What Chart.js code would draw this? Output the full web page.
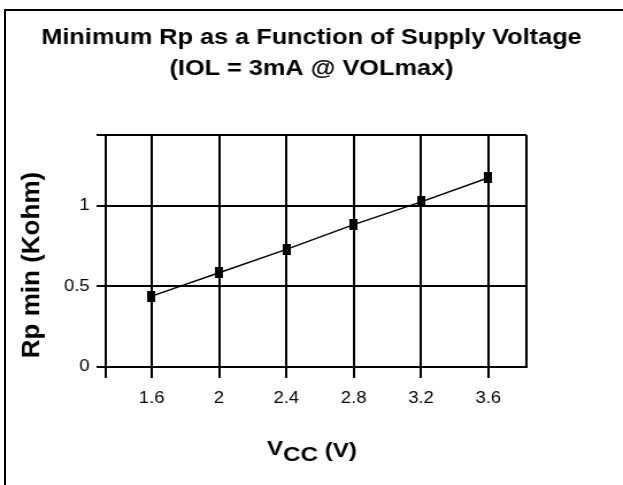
<!DOCTYPE html>
<html>
<head>
<meta charset="utf-8">
<script src="https://cdn.jsdelivr.net/npm/chart.js@4/dist/chart.umd.min.js"></script>
<style>
    body { margin: 0; background: #fff; overflow: hidden; }
    #wrap { position: relative; width: 623px; height: 485px; overflow: hidden; }
    /* o original tem o texto esticado na horizontal: esticamos o canvas inteiro */
    #grafico { position: absolute; left: 0; top: 0; transform: scaleX(1.1494); transform-origin: 0 0; }
    #frame { position: absolute; left: 4px; top: 9px; right: -10px; bottom: -10px; border-left: 2px solid #000; border-top: 2px solid #000; pointer-events: none; }
</style>
</head>
<body>
<div id="wrap">
    <canvas id="grafico" width="542" height="485"></canvas>
    <div id="frame"></div>
</div>
<script>
// Dados
const vcc = [1.6, 2, 2.4, 2.8, 3.2, 3.6];
const rpMin = [0.44, 0.585, 0.73, 0.884, 1.025, 1.175];
const xTicks = [1.6, 2, 2.4, 2.8, 3.2, 3.6];
const yTicks = [0, 0.5, 1];
const xMin = 1.327, xMax = 3.826;
const yMin = 0, yMax = 1.44;

const ESTICA = 1.1494;
const fonte = "'Liberation Sans', Arial, Helvetica, sans-serif";

// marcador retangular como no original
const marcador = document.createElement('canvas');
marcador.width = 7;
marcador.height = 11;
const mctx = marcador.getContext('2d');
mctx.fillStyle = '#000';
mctx.fillRect(0, 0, 7, 11);

// títulos dos eixos desenhados à mão (VCC com subscrito)
const titulosEixos = {
    id: 'titulosEixos',
    afterDraw(chart) {
        const ctx = chart.ctx;
        ctx.save();
        ctx.fillStyle = '#000';
        ctx.textBaseline = 'alphabetic';

        // eixo y (desfaz o esticamento para o texto girado)
        ctx.font = `bold 26px ${fonte}`;
        ctx.translate(32 / ESTICA, 265);
        ctx.scale(1 / ESTICA, 1);
        ctx.rotate(-Math.PI / 2);
        ctx.textAlign = 'center';
        ctx.textBaseline = 'middle';
        ctx.fillText('Rp min (Kohm)', 0, 0);
        ctx.restore();

        // eixo x: V + CC (subscrito) + (V)
        ctx.save();
        ctx.fillStyle = '#000';
        ctx.textAlign = 'left';
        ctx.textBaseline = 'alphabetic';
        ctx.font = `bold 21px ${fonte}`;
        const partes = [['V', 0], ['CC', 6], [' (V)', 2]];
        const larg = partes.reduce((a, p) => a + ctx.measureText(p[0]).width, 0);
        let x = 312 / ESTICA - larg / 2;
        partes.forEach(([txt, dy]) => {
            ctx.fillText(txt, x, 455 + dy);
            x += ctx.measureText(txt).width;
        });
        ctx.restore();
    }
};

new Chart(document.getElementById('grafico'), {
    type: 'line',
    data: {
        datasets: [{
            data: vcc.map((v, i) => ({ x: v, y: rpMin[i] })),
            borderColor: '#000',
            borderWidth: 1.5,
            pointStyle: marcador,
            pointRadius: 5,
            pointBackgroundColor: '#000',
            tension: 0
        }]
    },
    options: {
        responsive: false,
        animation: false,
        layout: { padding: 0 },
        plugins: {
            legend: { display: false },
            tooltip: { enabled: false },
            title: {
                display: true,
                text: ['Minimum Rp as a Function of Supply Voltage', '(IOL = 3mA @ VOLmax)'],
                color: '#000',
                font: { family: fonte, size: 22, weight: 'bold', lineHeight: 31 / 22 },
                padding: { top: 22, bottom: 51 }
            }
        },
        scales: {
            x: {
                type: 'linear',
                min: xMin,
                max: xMax,
                afterBuildTicks: s => { s.ticks = [xMin, ...xTicks, xMax].map(v => ({ value: v })); },
                afterFit: s => { s.height = 118; },
                ticks: {
                    color: '#000',
                    font: { family: fonte, size: 16 },
                    padding: 11,
                    autoSkip: false,
                    maxRotation: 0,
                    callback: v => xTicks.includes(v) ? String(v) : ''
                },
                grid: {
                    color: '#000',
                    lineWidth: 2,
                    tickLength: 11,
                    tickColor: c => (c.tick && c.tick.value === xMax) ? 'rgba(0,0,0,0)' : '#000'
                },
                border: { display: true, color: '#000', width: 2 }
            },
            y: {
                min: yMin,
                max: yMax,
                afterBuildTicks: s => { s.ticks = [...yTicks, yMax].map(v => ({ value: v })); },
                afterFit: s => { s.width = 92; },
                ticks: {
                    color: '#000',
                    font: { family: fonte, size: 16 },
                    padding: 6,
                    callback: v => yTicks.includes(v) ? String(v) : ''
                },
                grid: { color: '#000', lineWidth: 2, tickLength: 8 },
                border: { display: true, color: '#000', width: 2 }
            },
            // eixo vazio à direita só para reservar o espaço
            direita: {
                position: 'right',
                min: 0,
                max: 1,
                afterFit: s => { s.width = 84; },
                ticks: { display: false },
                grid: { display: false, drawTicks: false },
                border: { display: false }
            }
        }
    },
    plugins: [titulosEixos]
});
</script>
</body>
</html>
